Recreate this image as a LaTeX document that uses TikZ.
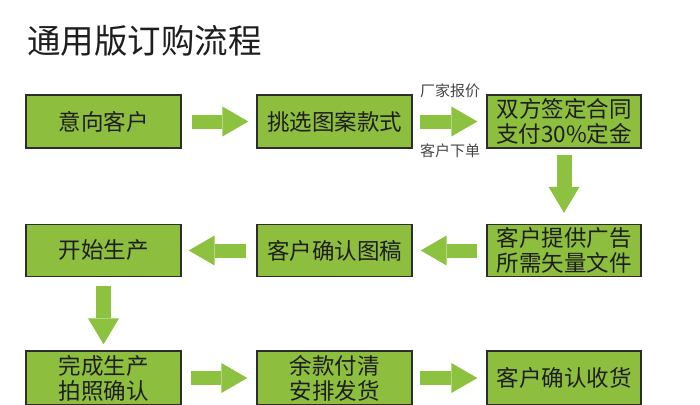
\documentclass[tikz,border=0pt]{standalone}
\usepackage{fontspec}
\newfontfamily\cjk{Noto Sans CJK SC}
\usetikzlibrary{arrows.meta}
\definecolor{boxgreen}{RGB}{141,190,62}
\definecolor{arrgreen}{RGB}{140,194,63}
\definecolor{edgegray}{RGB}{45,45,45}
\definecolor{txtgray}{RGB}{30,30,30}
\definecolor{labgray}{RGB}{70,70,70}
\begin{document}
\begin{tikzpicture}[x=1pt,y=-1pt,
  stepbox/.style={draw=edgegray, line width=1.3pt, fill=boxgreen, minimum width=155pt,
    minimum height=53pt, inner sep=0pt, text=txtgray, align=center,
    font=\cjk\fontsize{22.5}{25}\selectfont},
  blockarrow/.style={draw=arrgreen, line width=14pt,
    -{Triangle[length=26pt,width=30pt,line width=0pt]}},
  sidelabel/.style={text=labgray, font=\cjk\fontsize{15}{17}\selectfont, inner sep=0pt},
  titletext/.style={text=txtgray, font=\cjk\fontsize{33.5}{38}\selectfont, inner sep=0pt, anchor=west}]
\fill[white] (0,0) rectangle (700,404);
\useasboundingbox (0,0) rectangle (700,404);

\node[titletext] (title) at (27,41) {通用版订购流程};

\node[stepbox] (a) at (103.5,121.5) {意向客户};
\node[stepbox] (b) at (334.5,121.5) {挑选图案款式};
\node[stepbox, minimum width=154pt] (c) at (564,121.5) {双方签定合同\\支付30\%定金};

\node[stepbox, minimum height=52pt] (d) at (103.5,250.5) {开始生产};
\node[stepbox, minimum height=52pt] (e) at (334.5,250.5) {客户确认图稿};
\node[stepbox, minimum width=154pt, minimum height=52pt] (f) at (564,250.5) {客户提供广告\\所需矢量文件};

\node[stepbox, minimum height=54pt] (g) at (103.5,378) {完成生产\\拍照确认};
\node[stepbox, minimum height=54pt] (h) at (334.5,378) {余款付清\\安排发货};
\node[stepbox, minimum width=154pt, minimum height=54pt] (i) at (564,378) {客户确认收货};

\node[sidelabel] (p) at (450,91) {厂家报价};
\node[sidelabel] (q) at (450,151) {客户下单};

\draw[blockarrow, shorten <=10pt, shorten >=8pt] (a.east) -- (b.west);
\draw[blockarrow, shorten <=7pt, shorten >=9pt] (b.east) -- (c.west);
\draw[blockarrow, line width=15pt, -{Triangle[length=26pt,width=31pt,line width=0pt]}, shorten <=6pt, shorten >=11pt] (c.south) -- (f.north);
\draw[blockarrow, shorten <=9pt, shorten >=8pt] (f.west) -- (e.east);
\draw[blockarrow, shorten <=10pt, shorten >=7pt] (e.west) -- (d.east);
\draw[blockarrow, line width=15pt, -{Triangle[length=26pt,width=31pt,line width=0pt]}, shorten <=8.5pt, shorten >=6pt] (d.south) -- (g.north);
\draw[blockarrow, shorten <=9pt, shorten >=9pt] (g.east) -- (h.west);
\draw[blockarrow, shorten <=7pt, shorten >=9pt] (h.east) -- (i.west);
\end{tikzpicture}
\end{document}
